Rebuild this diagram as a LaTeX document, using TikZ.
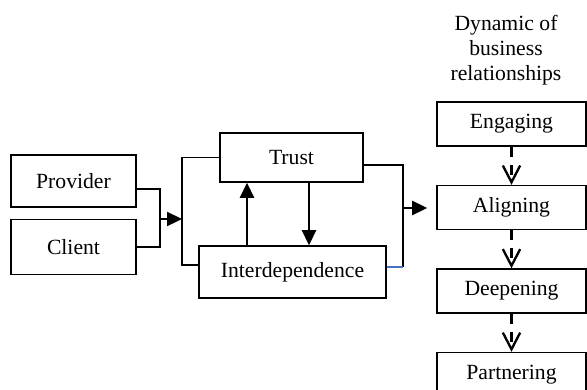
\documentclass[tikz,border=0pt]{standalone}
\usepackage{fontspec}
\setmainfont{Liberation Serif}
\usepackage{xcolor}
\usetikzlibrary{arrows.meta, positioning}
\definecolor{linkblue}{RGB}{68,114,196}

\begin{document}
\begin{tikzpicture}[
  x=0.03cm, y=-0.03cm,
  font=\fontsize{18.5}{21.5}\selectfont,
  >={Triangle[length=0.45cm, width=0.42cm]},
  base/.style={draw, line width=1.3pt, align=center, inner sep=0pt},
  actor/.style={base, minimum width=3.75cm, minimum height=1.56cm},
  stage/.style={base, minimum width=4.47cm, minimum height=1.32cm},
  link/.style={line width=1.6pt},
  flow/.style={line width=2pt, ->},
  next/.style={line width=2pt, dash pattern=on 0.3cm off 0.24cm, -{Straight Barb[length=0.5cm, width=0.52cm]}},
]
  \useasboundingbox (0,0) rectangle (587,389);

  \node[actor] (provider) at (73.5,181) {Provider};
  \node[actor, minimum height=1.65cm, below=0.33cm of provider] (client) {Client};
  \node[base, minimum width=4.29cm, minimum height=1.47cm] (trust) at (291.5,157.5) {Trust};
  \node[base, minimum width=5.61cm, minimum height=1.56cm] (interdep) at (292.5,272) {Interdependence};

  \node[align=center] (title) at (506,50) {Dynamic of\\ business\\ relationships};
  \node[stage] (engaging) at (511.5,124) {Engaging};
  \node[stage, below=1.14cm of engaging] (aligning) {Aligning};
  \node[stage, below=1.14cm of aligning] (deepening) {Deepening};
  \node[stage, below=1.14cm of deepening] (partnering) {Partnering};

  \coordinate (join) at (160,219);
  \coordinate (lbrack) at (182,219);
  \coordinate (rbrack) at (403,208);
  \coordinate (upx) at (247,0);
  \coordinate (downx) at (309,0);
  \coordinate (rlow) at ([yshift=0.15cm]interdep.east);

  \draw[link] ([yshift=-0.24cm]provider.east) -| (join);
  \draw[link] (client.east) -| (join);
  \draw[flow] (join) -- (lbrack);
  \draw[link] (trust.west) -| (lbrack) |- ([yshift=0.21cm]interdep.west);
  \draw[flow] (interdep.north -| upx) -- (trust.south -| upx);
  \draw[flow] (trust.south -| downx) -- (interdep.north -| downx);
  \draw[link] ([yshift=-0.225cm]trust.east) -| (rbrack |- rlow);
  \draw[line width=1.2pt, linkblue] (rlow) -- (rbrack |- rlow);
  \draw[flow, shorten >=0.27cm] (rbrack) -- (aligning.west |- rbrack);

  \draw[next] (engaging) -- (aligning);
  \draw[next] (aligning) -- (deepening);
  \draw[next] (deepening) -- (partnering);
\end{tikzpicture}
\end{document}
